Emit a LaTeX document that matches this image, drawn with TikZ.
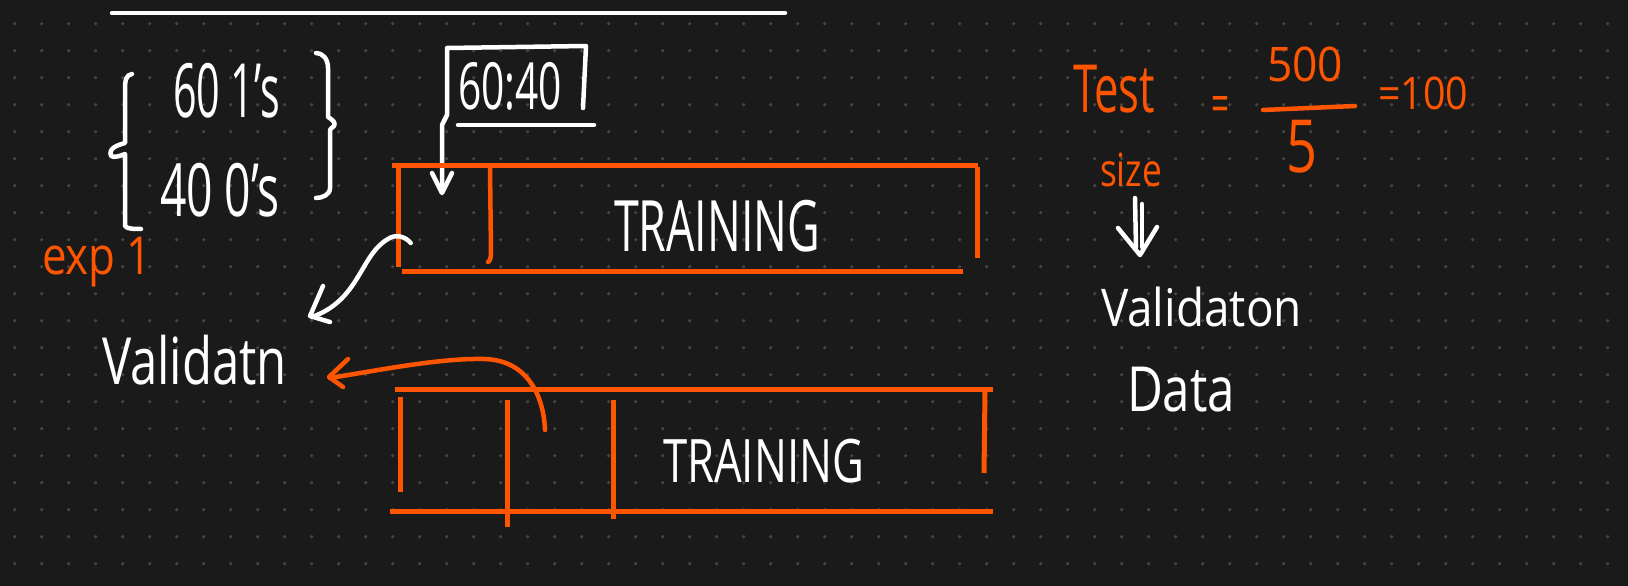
\documentclass[tikz,border=0pt]{standalone}
\usepackage{fontspec}
\setmainfont{Open Sans}
\usepackage{graphicx}
\definecolor{bg}{HTML}{1A1A1A}
\definecolor{dotc}{HTML}{454545}
\definecolor{org}{HTML}{FF5500}
\newcommand\hwtext[3]{\resizebox*{#1pt}{#2pt}{#3}}
\begin{document}
\begin{tikzpicture}[x=1pt,y=-1pt,
  wl/.style={draw=white,line width=4.5pt,line cap=round,line join=round},
  ol/.style={draw=org,line width=4.5pt,line cap=round,line join=round},
  ob/.style={draw=org,line width=5pt,line cap=butt},
  hw/.style={inner sep=0pt,outer sep=0pt,anchor=north west,text=white},
  ho/.style={hw,text=org}]
\fill[bg] (0,0) rectangle (1628,586);
\useasboundingbox (0,0) rectangle (1628,586);
\foreach \i in {0,...,59}{\foreach \j in {0,...,20}{\fill[dotc] (14.7+27*\i,23.7+27*\j) circle (1.8);}}
% top line
\draw[wl] (112,13) -- (785,13);
% left bracket
\draw[wl] (132,74) .. controls (126,75) and (125,80) .. (125,90) -- (125,143)
  .. controls (118,145) and (108,148) .. (111,156) .. controls (114,158) and (120,156) .. (125,154)
  -- (125,226) .. controls (127,229) and (134,229) .. (141,229);
% right brace
\draw[wl] (316,53) .. controls (322,53) and (328,58) .. (328,68) -- (328,117)
  .. controls (333,120) and (336,123) .. (334,126) .. controls (333,128) and (330,128) .. (330,130)
  -- (330,188) .. controls (330,195) and (322,198) .. (316,198);
% texts left
\node[hw] (t601) at (173,63) {\hwtext{107}{55}{60 1's}};
\node[hw] (t400) at (160,163) {\hwtext{120}{54}{40 0's}};
\node[ho] (exp) at (42,237) {\hwtext{110}{50}{exp 1}};
\node[hw] (ratio) at (458,62) {\hwtext{104}{48}{60:40}};
\node[hw] (valL) at (102,335) {\hwtext{185}{50}{Validatn}};
% 60:40 box and arrow
\draw[wl] (583,108) -- (586,46) -- (447,48) -- (447,115) -- (442,125) -- (442,192);
\draw[wl] (432,173) -- (442,193) -- (452,173);
\draw[wl] (458,125) -- (594,125);
% box 1
\draw[ob] (392,165) -- (978,165);
\draw[ob] (977,167) -- (977,258);
\draw[ob] (402,271) -- (963,271);
\draw[ob] (398,167) -- (398,267);
\draw[ol] (490,168) -- (491,252) .. controls (491,258) and (490,261) .. (488,262);
\node[hw] (tr1) at (614,200) {\hwtext{206}{52}{TRAINING}};
% box 2
\draw[ob] (395,389) -- (993,389);
\draw[ob] (985,392) -- (984,473);
\draw[ob] (400,397) -- (400,492);
\draw[ob] (390,511) -- (993,511);
\draw[ob] (507,400) -- (507,527);
\draw[ob] (613,400) -- (613,519);
\node[hw] (tr2) at (663,439) {\hwtext{201}{44}{TRAINING}};
% white curved arrow box1 -> Validatn
\coordinate (wa) at (410.7,243);
\coordinate (wt) at (312,317);
\draw[wl] (wa) .. controls (405,236) and (395,234) .. (388,239) .. controls (360,255) and (360,300) .. (wt);
\draw[wl] (323,286) -- (310,316) -- (330,322);
% orange curved arrow box2 -> Validatn
\coordinate (oa) at (545,430);
\coordinate (ot) at (330,378);
\draw[ol] (oa) .. controls (544,400) and (530,360) .. (484,359) .. controls (440,358) and (380,370) .. (ot);
\draw[ol] (348,359) -- (329,377) -- (343,387);
% right side
\node[ho] (test) at (1073,65) {\hwtext{82}{48}{Test}};
\node[ho] (size) at (1100,153) {\hwtext{62}{34}{size}};
\node[ho] (eq) at (1211,96) {\hwtext{18}{26}{=}};
\node[ho] (n500) at (1267,47) {\hwtext{76}{35}{500}};
\draw[ol] (1263,110) -- (1355,106);
\node[ho] (n5) at (1286,120) {\hwtext{31}{53}{5}};
\node[ho] (n100) at (1378,77) {\hwtext{90}{33}{=100}};
\draw[wl] (1135,198) -- (1136,247);
\draw[wl] (1142,204) -- (1142,247);
\draw[wl] (1118,228) -- (1140,255) -- (1157,227);
\node[hw] (valR) at (1101,287) {\hwtext{201}{40}{Validaton}};
\node[hw] (data) at (1127,367) {\hwtext{108}{45}{Data}};
\end{tikzpicture}
\end{document}
